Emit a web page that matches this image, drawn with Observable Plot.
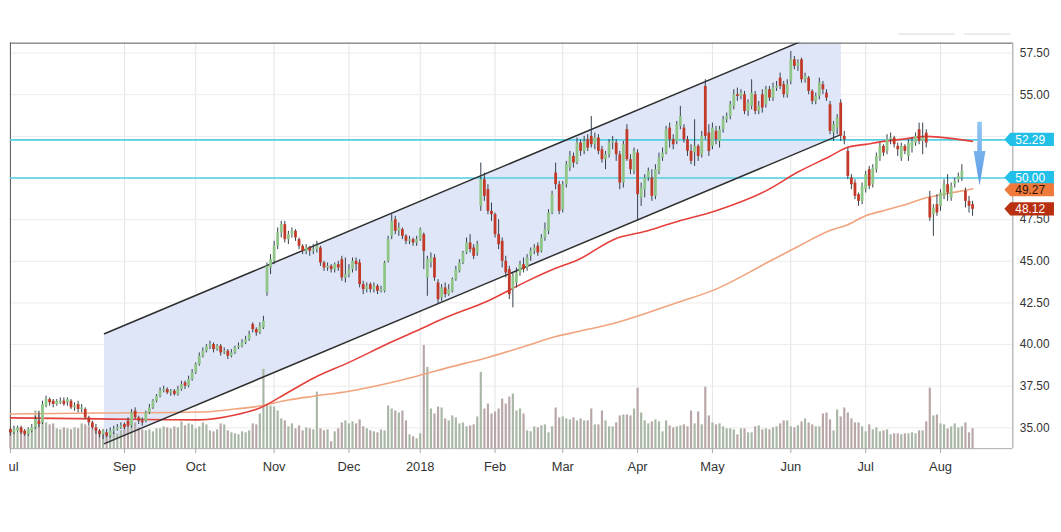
<!DOCTYPE html>
<html><head><meta charset="utf-8">
<script src="https://cdn.jsdelivr.net/npm/d3@7"></script>
<script src="https://cdn.jsdelivr.net/npm/@observablehq/plot@0.6"></script>
<style>
html,body{margin:0;padding:0;background:#fff;}
#wrap{position:relative;width:1061px;height:532px;overflow:hidden;background:#fff;}
#clip{position:absolute;left:9px;top:0;width:1052px;height:532px;overflow:hidden;}
#clip svg{position:absolute;left:-9px;top:0;background:transparent;}
.tog{position:absolute;top:33px;height:2px;background:#ececec;}
</style></head><body>
<div id="wrap"><div id="clip"></div><div class="tog" style="left:898px;width:57px"></div><div class="tog" style="left:964px;width:46px"></div></div>
<script>
// ---- data (trading-day index i = 0 .. 270) ----
const tickIdx = [0, 32, 52, 74, 95, 115, 136, 155, 176, 197, 219, 240, 261];
const tickLabels = ["Jul", "Sep", "Oct", "Nov", "Dec", "2018", "Feb", "Mar", "Apr", "May", "Jun", "Jul", "Aug"];
const yTicks = [35, 37.5, 40, 42.5, 45, 47.5, 50, 52.5, 55, 57.5];
// tick labels that stay visible (52.50 and 50.00 sit behind the price callouts)
const yTickLabels = [35, 37.5, 40, 42.5, 45, 47.5, 55, 57.5];

// [open, high, low, close]
const candles = [
[34.9,35.0,34.5,34.7],[34.7,35.1,34.6,34.9],[34.8,35.1,34.7,35.0],[35.0,35.1,34.6,34.7],[34.8,34.9,34.5,34.6],
[34.6,35.0,34.5,34.9],[34.8,35.2,34.7,35.0],[35.0,35.7,34.9,35.5],[35.4,36.0,35.0,35.2],[35.3,36.6,35.2,36.4],
[36.3,36.9,36.2,36.7],[36.7,36.8,36.3,36.5],[36.6,36.7,36.2,36.4],[36.4,36.7,36.3,36.6],[36.5,36.8,36.4,36.6],
[36.6,36.8,36.3,36.4],[36.5,36.8,36.3,36.7],[36.6,36.7,36.1,36.2],[36.2,36.5,36.0,36.3],[36.4,36.6,35.9,36.1],
[36.1,36.4,35.9,36.2],[36.1,36.2,35.5,35.6],[35.6,35.7,35.1,35.3],[35.3,35.4,34.9,35.0],[35.0,35.2,34.6,34.8],
[34.8,34.9,34.4,34.6],[34.6,34.9,34.3,34.8],[34.7,34.9,34.4,34.5],[34.5,35.0,34.4,34.8],[34.8,35.1,34.6,34.9],
[34.9,35.2,34.8,35.0],[35.0,35.3,34.9,35.1],[35.2,35.3,34.9,35.0],[35.4,35.6,35.0,35.1],[35.1,36.1,35.0,35.9],
[36.0,36.2,35.5,35.6],[35.6,35.7,35.2,35.4],[35.4,35.6,35.1,35.3],[35.4,36.0,35.3,35.9],[35.9,36.4,35.8,36.2],
[36.2,36.7,36.1,36.6],[36.6,37.0,36.5,36.9],[36.9,37.4,36.8,37.2],[37.2,37.5,37.1,37.3],[37.3,37.4,37.0,37.1],
[37.1,37.3,36.9,37.2],[37.2,37.3,36.9,37.0],[37.0,37.5,36.9,37.3],[37.3,37.8,37.2,37.6],[37.7,37.8,37.3,37.5],
[37.5,38.1,37.4,37.9],[37.9,38.5,37.8,38.3],[38.3,38.9,38.2,38.8],[38.8,39.5,38.7,39.3],[39.3,39.8,39.2,39.6],
[39.6,40.0,39.5,39.9],[39.9,40.2,39.7,40.0],[40.0,40.1,39.5,39.7],[39.7,40.0,39.6,39.9],[39.9,40.0,39.3,39.5],
[39.5,39.8,39.4,39.6],[39.6,39.7,39.1,39.3],[39.3,39.7,39.2,39.5],[39.5,39.9,39.4,39.8],[39.8,40.1,39.7,39.9],
[39.9,40.3,39.8,40.1],[40.1,40.5,40.0,40.3],[40.3,40.8,40.2,40.6],[41.2,41.3,40.7,40.9],[40.9,41.0,40.5,40.7],
[40.7,41.3,40.6,41.1],[41.0,41.7,40.9,41.4],[43.1,44.9,42.9,44.7],[44.6,45.4,44.2,45.1],[45.0,46.2,44.8,45.9],
[45.9,47.0,45.7,46.7],[46.7,47.4,46.4,47.2],[47.2,47.4,46.1,46.3],[46.3,46.8,46.0,46.6],[46.6,47.0,46.4,46.8],
[46.8,46.9,46.2,46.4],[46.3,46.4,45.7,45.9],[45.9,46.0,45.4,45.6],[45.6,46.0,45.4,45.8],[45.8,45.9,45.3,45.6],
[45.6,46.0,45.4,45.7],[45.7,46.2,45.5,45.9],[45.8,45.9,44.7,44.9],[44.9,45.0,44.4,44.6],[44.6,44.9,44.4,44.7],
[44.7,44.8,44.3,44.5],[44.5,44.9,44.3,44.8],[44.8,45.0,44.4,44.6],[45.1,45.3,43.8,44.0],[44.0,45.2,43.7,44.2],
[44.2,44.8,44.0,44.5],[44.5,45.2,44.3,45.0],[45.0,45.2,44.4,44.8],[44.9,45.1,43.4,43.6],[43.6,43.8,43.0,43.3],
[43.3,43.7,43.1,43.5],[43.6,43.7,43.1,43.3],[43.3,43.7,43.1,43.5],[43.5,43.6,43.0,43.2],[43.2,43.5,43.1,43.3],
[43.2,45.0,43.1,44.9],[45.0,46.5,44.9,46.3],[46.5,47.8,46.3,47.4],[47.5,47.7,46.6,46.8],[46.8,47.3,46.5,47.0],
[46.9,47.0,46.3,46.5],[46.5,46.6,46.0,46.2],[46.2,46.5,46.0,46.3],[46.3,46.4,45.9,46.1],[46.1,46.5,45.9,46.3],
[46.3,47.0,46.2,46.9],[46.6,46.7,44.5,45.6],[44.0,45.3,42.9,45.1],[44.9,45.5,44.6,45.2],[45.2,45.4,43.8,44.0],
[43.7,43.9,42.4,42.7],[42.8,43.6,42.6,43.4],[43.4,43.7,42.8,43.0],[43.0,43.6,42.9,43.3],[43.2,44.0,43.1,43.9],
[43.9,44.7,43.8,44.5],[44.4,45.1,44.3,44.9],[44.9,45.6,44.8,45.5],[45.5,46.4,45.4,46.1],[46.1,46.6,45.5,45.7],
[45.8,46.0,45.1,45.3],[45.5,46.2,45.3,46.0],[48.3,50.9,48.0,49.9],[49.9,50.3,48.6,48.9],[49.3,49.6,47.8,48.0],
[48.0,48.5,47.4,47.8],[47.8,47.9,46.4,46.6],[46.6,47.5,45.7,46.0],[46.2,46.4,44.6,45.0],[45.0,45.3,44.0,44.3],
[44.5,44.7,42.7,43.0],[43.3,44.3,42.2,44.1],[43.7,44.6,43.4,44.3],[44.3,45.0,44.1,44.8],[44.8,45.2,44.3,44.5],
[44.6,45.4,44.4,45.2],[45.3,45.8,45.0,45.6],[45.6,46.0,45.4,45.8],[45.9,46.1,45.3,45.5],[45.6,46.6,45.5,46.4],
[46.4,47.3,46.2,46.9],[46.8,48.1,46.6,47.9],[47.9,49.2,47.8,49.0],[50.3,50.9,49.3,49.6],[49.6,49.8,47.8,48.0],
[48.1,49.8,47.9,49.6],[49.6,51.0,49.4,50.8],[50.6,51.6,50.4,51.3],[51.3,51.5,50.6,50.9],[50.9,52.4,50.8,52.1],
[52.1,52.3,51.3,51.6],[51.6,52.5,51.4,52.2],[52.3,52.6,51.6,51.8],[52.5,53.7,51.8,52.0],[52.0,52.7,51.7,52.4],
[52.4,52.6,51.4,51.6],[51.7,51.9,50.9,51.1],[51.1,51.6,50.5,51.4],[51.4,52.3,51.2,52.1],[52.1,52.5,51.7,52.2],
[52.1,52.3,51.0,51.4],[51.4,51.6,49.3,49.7],[49.7,52.2,49.4,52.0],[52.9,53.2,51.0,51.1],[51.1,51.4,50.2,50.5],
[50.4,51.8,50.2,51.6],[51.5,51.7,47.4,49.0],[48.8,49.7,48.3,49.4],[49.3,50.2,48.8,50.0],[50.0,50.6,49.8,50.4],
[50.0,50.5,48.6,48.9],[48.9,50.8,48.7,50.5],[50.4,51.5,50.2,51.2],[51.2,51.8,51.0,51.5],[51.5,53.1,51.4,52.9],
[53.0,53.3,51.8,52.3],[52.3,52.6,51.7,52.0],[52.2,53.4,52.0,53.2],[53.1,54.3,52.9,53.7],[53.0,53.2,52.1,52.3],
[52.3,52.5,51.3,51.6],[51.6,52.0,50.8,51.0],[51.5,53.5,50.7,51.9],[51.9,52.0,51.0,51.3],[51.4,52.8,51.2,52.5],
[55.5,55.9,52.3,52.5],[52.7,53.2,51.3,51.6],[51.9,53.3,51.7,53.0],[52.8,53.1,52.0,52.3],[52.2,53.1,51.8,52.9],
[52.9,53.7,52.7,53.5],[53.5,53.9,53.3,53.7],[53.7,54.6,53.5,54.4],[54.3,55.3,54.1,55.0],[55.0,55.4,54.6,54.9],
[54.9,55.3,54.7,55.1],[55.0,55.2,53.8,54.0],[54.0,54.7,53.7,54.5],[54.3,55.9,54.1,55.1],[55.0,55.2,53.8,54.0],
[54.0,54.6,53.8,54.3],[55.0,55.3,53.9,54.2],[54.4,55.5,54.2,55.3],[55.3,55.5,54.6,54.8],[54.8,55.7,54.6,55.4],
[55.4,55.8,55.2,55.5],[56.0,56.3,55.3,55.5],[55.6,55.8,54.8,55.0],[55.0,55.9,54.8,55.6],[55.8,57.6,55.6,57.1],
[57.1,57.3,56.5,56.7],[56.7,57.1,56.4,56.9],[57.1,57.2,55.7,55.9],[55.9,56.3,55.7,56.1],[56.0,56.1,55.0,55.2],
[55.2,55.3,54.4,54.6],[54.6,55.1,54.4,54.9],[54.9,56.0,54.7,55.7],[55.6,55.8,55.0,55.3],[55.1,55.3,54.6,54.8],
[54.4,54.6,52.6,52.8],[52.7,53.4,52.2,53.2],[53.0,53.8,52.6,53.6],[54.5,54.7,52.2,52.5],[52.5,52.8,52.0,52.3],
[51.6,51.8,49.9,50.1],[50.0,50.2,49.3,49.6],[49.7,49.9,48.7,48.9],[49.0,49.1,48.3,48.6],[48.6,49.7,48.4,49.5],
[49.3,50.4,49.1,50.2],[50.5,50.7,49.3,49.5],[49.6,50.8,49.4,50.6],[50.5,51.5,50.3,51.3],[51.2,52.1,51.0,51.9],
[51.9,52.0,51.3,51.5],[51.6,52.6,51.4,52.3],[52.3,52.7,52.0,52.4],[52.4,52.5,51.8,52.0],[51.9,52.1,51.3,51.7],
[51.2,52.1,51.0,51.9],[51.9,52.0,51.4,51.6],[51.3,52.3,51.0,52.1],[51.8,52.4,51.5,52.2],[52.1,52.7,51.9,52.5],
[52.9,53.3,52.0,52.2],[52.2,53.3,51.4,52.4],[52.7,52.9,51.8,52.1],[48.8,49.2,47.4,47.6],[47.8,48.4,46.5,48.2],
[48.4,49.0,47.7,47.9],[48.3,49.3,48.0,49.1],[48.9,49.9,48.7,49.6],[49.6,50.2,48.6,49.1],[48.8,49.7,48.6,49.5],
[49.6,50.0,49.4,49.8],[49.9,50.3,49.7,50.1],[50.0,50.8,49.8,50.4],[49.2,49.4,48.2,48.6],[48.6,48.9,47.9,48.3],
[48.4,48.6,47.7,48.12]
];

// volume (relative units)
const volume = [
17,18,16,19,17,18,20,38,36,30, 26,24,25,20,19,21,20,19,21,20,
25,24,22,20,19,18,17,15,14,16, 15,18,20,22,24,26,21,19,18,19,
17,20,20,22,21,20,22,21,27,23, 25,24,20,22,26,24,18,17,19,25,
24,18,16,15,14,17,16,18,25,24, 35,80,45,43,42,38,30,28,22,25,
20,23,18,21,20,19,57,20,18,19, 7,17,20,26,28,25,27,25,29,22,
20,18,17,16,19,18,43,40,38,36, 38,28,14,12,10,15,104,82,40,35,
42,41,30,28,33,31,25,26,22,23, 24,32,77,40,45,35,37,40,50,45,
52,55,38,40,35,18,17,22,21,23, 24,16,22,41,31,32,30,29,31,28,
30,28,28,40,24,24,38,28,22,22, 26,33,34,34,33,40,61,36,28,25,
27,29,27,17,28,23,21,22,23,24, 22,38,25,37,24,62,33,26,24,25,
22,20,20,19,14,20,20,16,16,22, 23,19,20,19,21,22,25,28,28,22,
21,23,27,30,26,24,22,22,35,36, 29,18,39,32,41,36,30,26,26,22,
17,24,19,21,17,18,19,14,15,15, 14,15,15,16,15,18,18,27,61,33,
34,25,24,20,22,25,21,22,26,16,20
];

// moving averages
const maIdx    = [0,25,53,63,70,78,85,95,106,114,122,134,145,153,159,170,178,186,198,212,221,230,235,240,245,250,257,264,270];
const maFast   = [35.60,35.54,35.48,35.77,36.19,37.14,37.98,38.93,40.06,40.83,41.61,42.62,43.81,44.58,45.06,46.37,46.79,47.32,48.04,49.23,50.36,51.31,51.85,52.02,52.20,52.32,52.50,52.38,52.20];
const maSlow   = [35.83,35.89,35.95,36.13,36.31,36.67,36.90,37.20,37.68,38.10,38.57,39.23,39.94,40.48,40.77,41.31,41.85,42.44,43.33,44.88,45.89,46.85,47.20,47.74,48.04,48.33,48.81,49.11,49.35];

// trend channel
const channelIdx   = [26.4, 233.2];
const channelLower = [34.05, 52.62];
const channelUpper = [40.65, 59.22];

// horizontal levels and price callouts
const levels = [52.29, 50.00];
const calloutValues = [52.29, 50.00, 49.27, 48.12];

// arrow annotation
const arrowIdx = 272.1;
const arrowPrices = [53.35, 51.6, 49.52]; // top, head base, tip

// ---- build ----
const rows = candles.map(([o, h, l, c], i) => ({i, o, h, l, c, v: volume[i], up: c >= o}));
const upRows = rows.filter(d => d.up), downRows = rows.filter(d => !d.up);
const maRows = maIdx.map((i, k) => ({i, fast: maFast[k], slow: maSlow[k]}));
const channel = channelIdx.map((i, k) => ({i, lo: channelLower[k], hi: channelUpper[k]}));
const labelByIdx = new Map(tickIdx.map((d, k) => [d, tickLabels[k]]));

const font = "'Liberation Sans', Arial, sans-serif";
const common = {
  width: 1061, height: 532,
  marginTop: 43, marginRight: 40, marginBottom: 80, marginLeft: 10,
  style: {fontFamily: font, fontSize: "12px", color: "#333", background: "transparent", overflow: "visible"}
};
const xDom = [0, 281.3], yDom = [33.75, 58.1];

const baseChart = Plot.plot({
  ...common,
  x: {type: "linear", domain: xDom, axis: null},
  y: {domain: yDom, axis: null},
  marks: [
    Plot.gridX(tickIdx, {stroke: "#e4e4e4", strokeOpacity: 1}),
    Plot.gridY(yTicks, {stroke: "#ececec", strokeOpacity: 1}),
    Plot.areaY(channel, {x: "i", y1: "lo", y2: "hi", fill: "#dfe6f7", clip: true}),
    Plot.axisX(tickIdx, {anchor: "bottom", label: null, tickSize: 5, tickPadding: 8, stroke: "#aaa", fontSize: 13, tickFormat: d => labelByIdx.get(d)}),
    Plot.axisY(yTickLabels, {anchor: "right", label: null, tickSize: 0, tickPadding: 7, fontSize: 12, tickFormat: d => d.toFixed(2)}),
    Plot.ruleY([yDom[0]], {stroke: "#aaa"}),
    Plot.ruleX([xDom[1]], {stroke: "#999"}),
    Plot.ruleY([yDom[1]], {stroke: "#555"}),
    Plot.ruleX([xDom[0]], {stroke: "#555"})
  ]
});

const volChart = Plot.plot({
  ...common,
  x: {type: "linear", domain: xDom, axis: null},
  y: {domain: [0, 409], axis: null},
  marks: [
    Plot.ruleX(upRows, {x: "i", y1: 0, y2: "v", stroke: "#a9b7a6", strokeWidth: 2.2}),
    Plot.ruleX(downRows, {x: "i", y1: 0, y2: "v", stroke: "#b9a7a7", strokeWidth: 2.2})
  ]
});

function arrowMark(index, scales, values, dim) {
  const g = d3.create("svg:g");
  const x = scales.x(arrowIdx);
  const [yTop, yHead, yTip] = arrowPrices.map(p => scales.y(p));
  const grad = g.append("defs").append("linearGradient").attr("id", "arrowGrad")
    .attr("x1", 0).attr("y1", 0).attr("x2", 0).attr("y2", 1);
  grad.append("stop").attr("offset", "0%").attr("stop-color", "#93c6f2");
  grad.append("stop").attr("offset", "100%").attr("stop-color", "#5a9be6");
  g.append("path")
    .attr("d", `M${x-2.3},${yTop}L${x+2.3},${yTop}L${x+2.3},${yHead}L${x+6},${yHead}L${x},${yTip}L${x-6},${yHead}L${x-2.3},${yHead}Z`)
    .attr("fill", "url(#arrowGrad)");
  return g.node();
}

const calloutStyle = [
  {fill: "#22c0e8", text: "#ffffff"},
  {fill: "#22c0e8", text: "#ffffff"},
  {fill: "#f07a3c", text: "#2a1408"},
  {fill: "#b8300f", text: "#ffffff"}
];
function calloutMark(index, scales, values, dim) {
  const g = d3.create("svg:g");
  const x0 = dim.width - dim.marginRight - 8;
  calloutValues.forEach((v, k) => {
    const y = scales.y(v), s = calloutStyle[k];
    g.append("path")
      .attr("d", `M${x0},${y}L${x0+6},${y-6.6}L${x0+50},${y-6.6}L${x0+50},${y+6.6}L${x0+6},${y+6.6}Z`)
      .attr("fill", s.fill);
    g.append("text").attr("x", x0 + 26).attr("y", y).attr("dy", "0.36em")
      .attr("text-anchor", "middle").attr("fill", s.text)
      .attr("font-family", font).attr("font-size", 12).text(v.toFixed(2));
  });
  return g.node();
}

const overlayChart = Plot.plot({
  ...common,
  x: {type: "linear", domain: xDom, axis: null},
  y: {domain: yDom, axis: null},
  marks: [
    Plot.ruleY(levels, {stroke: "#52cfe2", strokeWidth: 1.6}),
    Plot.line(maRows, {x: "i", y: "slow", stroke: "#f2a47e", strokeWidth: 1.6, curve: "monotone-x"}),
    Plot.line(maRows, {x: "i", y: "fast", stroke: "#e5403b", strokeWidth: 1.6, curve: "monotone-x"}),
    Plot.line(channel, {x: "i", y: "hi", stroke: "#2f2f2f", strokeWidth: 1.5, clip: true}),
    Plot.line(channel, {x: "i", y: "lo", stroke: "#2f2f2f", strokeWidth: 1.5, clip: true}),
    Plot.ruleX(rows, {x: "i", y1: "l", y2: "h", stroke: "#34404c", strokeWidth: 1}),
    Plot.ruleX(upRows, {x: "i", y1: "o", y2: "c", stroke: "#8fc587", strokeWidth: 2.8}),
    Plot.ruleX(downRows, {x: "i", y1: "o", y2: "c", stroke: "#c23a27", strokeWidth: 2.8}),
    arrowMark,
    calloutMark
  ]
});

document.getElementById("clip").append(baseChart, volChart, overlayChart);
</script>
</body></html>
